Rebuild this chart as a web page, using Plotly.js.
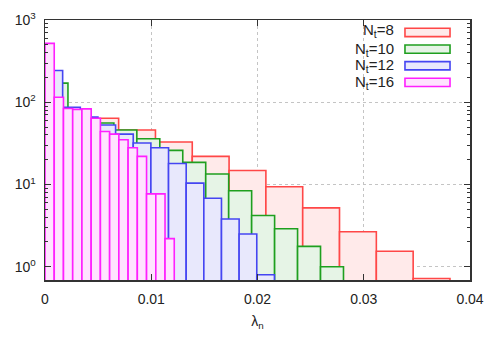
<!DOCTYPE html>
<html>
<head>
<meta charset="utf-8">
<script src="https://cdn.plot.ly/plotly-3.0.1.min.js"></script>
<style>
  html, body { margin: 0; padding: 0; background: #fff; }
  #chart { width: 500px; height: 350px; }
</style>
</head>
<body>
<div id="chart"></div>
<script>
// Histogram heights (log scale), one array per N_t
const labels = ["N<sub>t</sub>=8", "N<sub>t</sub>=10", "N<sub>t</sub>=12", "N<sub>t</sub>=16"];
const binWidths = [0.003465, 0.002161, 0.001661, 0.000869];
const nt8Values = [80, 64, 46, 32.8, 22, 14.8, 9.4, 5.2, 2.66, 1.54, 0.72];
const nt10Values = [171, 78, 56, 46, 36, 26, 18.6, 13.4, 8.4, 4.2, 2.9, 1.77, 1.0];
const nt12Values = [243, 87, 66, 53, 41, 32, 28, 18, 10.4, 6.8, 3.8, 2.5, 0.8];
const nt16Values = [520, 115, 84, 82, 83, 64, 44, 41, 35, 28, 22, 7.7, 7.7, 2.2];
const xTicks = [0, 0.01, 0.02, 0.03, 0.04];
const xTickText = ["0", "0.01", "0.02", "0.03", "0.04"];
const yTicks = [1, 10, 100, 1000];
const yTickText = ["10<sup>0</sup>", "10<sup>1</sup>", "10<sup>2</sup>", "10<sup>3</sup>"];

const lineColors = ["#ff4747", "#1f9f1f", "#4545f2", "#ff1fff"];
const fillColors = ["#ffeaea", "#e6f4e6", "#e8e8fc", "#ffe3ff"];

const allValues = [nt8Values, nt10Values, nt12Values, nt16Values];

// one bar trace per series, bins start at 0
const traces = allValues.map((vals, k) => {
    const w = binWidths[k];
    return {
        type: 'bar',
        x: vals.map((v, i) => (i + 0.5) * w),
        y: vals,
        width: w,
        marker: {
            color: fillColors[k],
            line: { color: lineColors[k], width: 1.6 }
        },
        hoverinfo: 'x+y',
        showlegend: false
    };
});

// minor ticks for the log axis (2..9 in each decade)
const minorVals = [];
[1, 10, 100].forEach(d => {
    for (let m = 2; m <= 9; m++) minorVals.push(m * d);
});

// gnuplot style key: text on the left, swatch box on the right
const keyRows = [0.952, 0.888, 0.824, 0.760];
const keyTextRows = [0.960, 0.888, 0.824, 0.760];
const annotations = labels.map((t, k) => ({
    xref: 'paper', yref: 'paper',
    x: 0.824, y: keyTextRows[k],
    xanchor: 'right', yanchor: 'middle',
    text: t, showarrow: false, borderpad: 0,
    font: { family: 'Liberation Sans, Arial, sans-serif', size: 15, color: '#222' }
}));
const shapes = labels.map((t, k) => ({
    type: 'rect', xref: 'paper', yref: 'paper',
    x0: 0.847, x1: 0.953,
    y0: keyRows[k] - 0.016, y1: keyRows[k] + 0.016,
    fillcolor: fillColors[k],
    line: { color: lineColors[k], width: 1.6 }
}));

const axisFont = { family: 'Liberation Sans, Arial, sans-serif', size: 14, color: '#222' };

const layout = {
    width: 500,
    height: 350,
    margin: { l: 45, r: 30, t: 20, b: 70 },
    paper_bgcolor: '#fff',
    plot_bgcolor: '#fff',
    barmode: 'overlay',
    bargap: 0,
    showlegend: false,
    xaxis: {
        range: [0, 0.04],
        tickmode: 'array',
        tickvals: xTicks,
        ticktext: xTickText,
        ticks: 'inside',
        ticklen: 6,
        tickcolor: '#333',
        showline: true,
        linecolor: '#333',
        linewidth: 1.5,
        mirror: 'ticks',
        showgrid: true,
        gridcolor: '#c4c4c4',
        griddash: 'dot',
        gridwidth: 1,
        zeroline: false,
        tickfont: axisFont,
        ticklabelstandoff: 6,
        title: { text: 'λ<sub>n</sub>', font: axisFont, standoff: 10 }
    },
    yaxis: {
        type: 'log',
        range: [Math.log10(0.69), 3],
        tickmode: 'array',
        tickvals: yTicks,
        ticktext: yTickText,
        ticks: 'inside',
        ticklen: 6,
        tickcolor: '#333',
        minor: { tickmode: 'array', tickvals: minorVals, ticks: 'inside', ticklen: 3, tickcolor: '#333', showgrid: false },
        showline: true,
        linecolor: '#333',
        linewidth: 1.5,
        mirror: 'ticks',
        showgrid: true,
        gridcolor: '#c4c4c4',
        griddash: 'dot',
        gridwidth: 1,
        zeroline: false,
        tickfont: axisFont,
        ticklabelstandoff: 5
    },
    annotations: annotations,
    shapes: shapes
};

Plotly.newPlot('chart', traces, layout, { staticPlot: true });
</script>
</body>
</html>
